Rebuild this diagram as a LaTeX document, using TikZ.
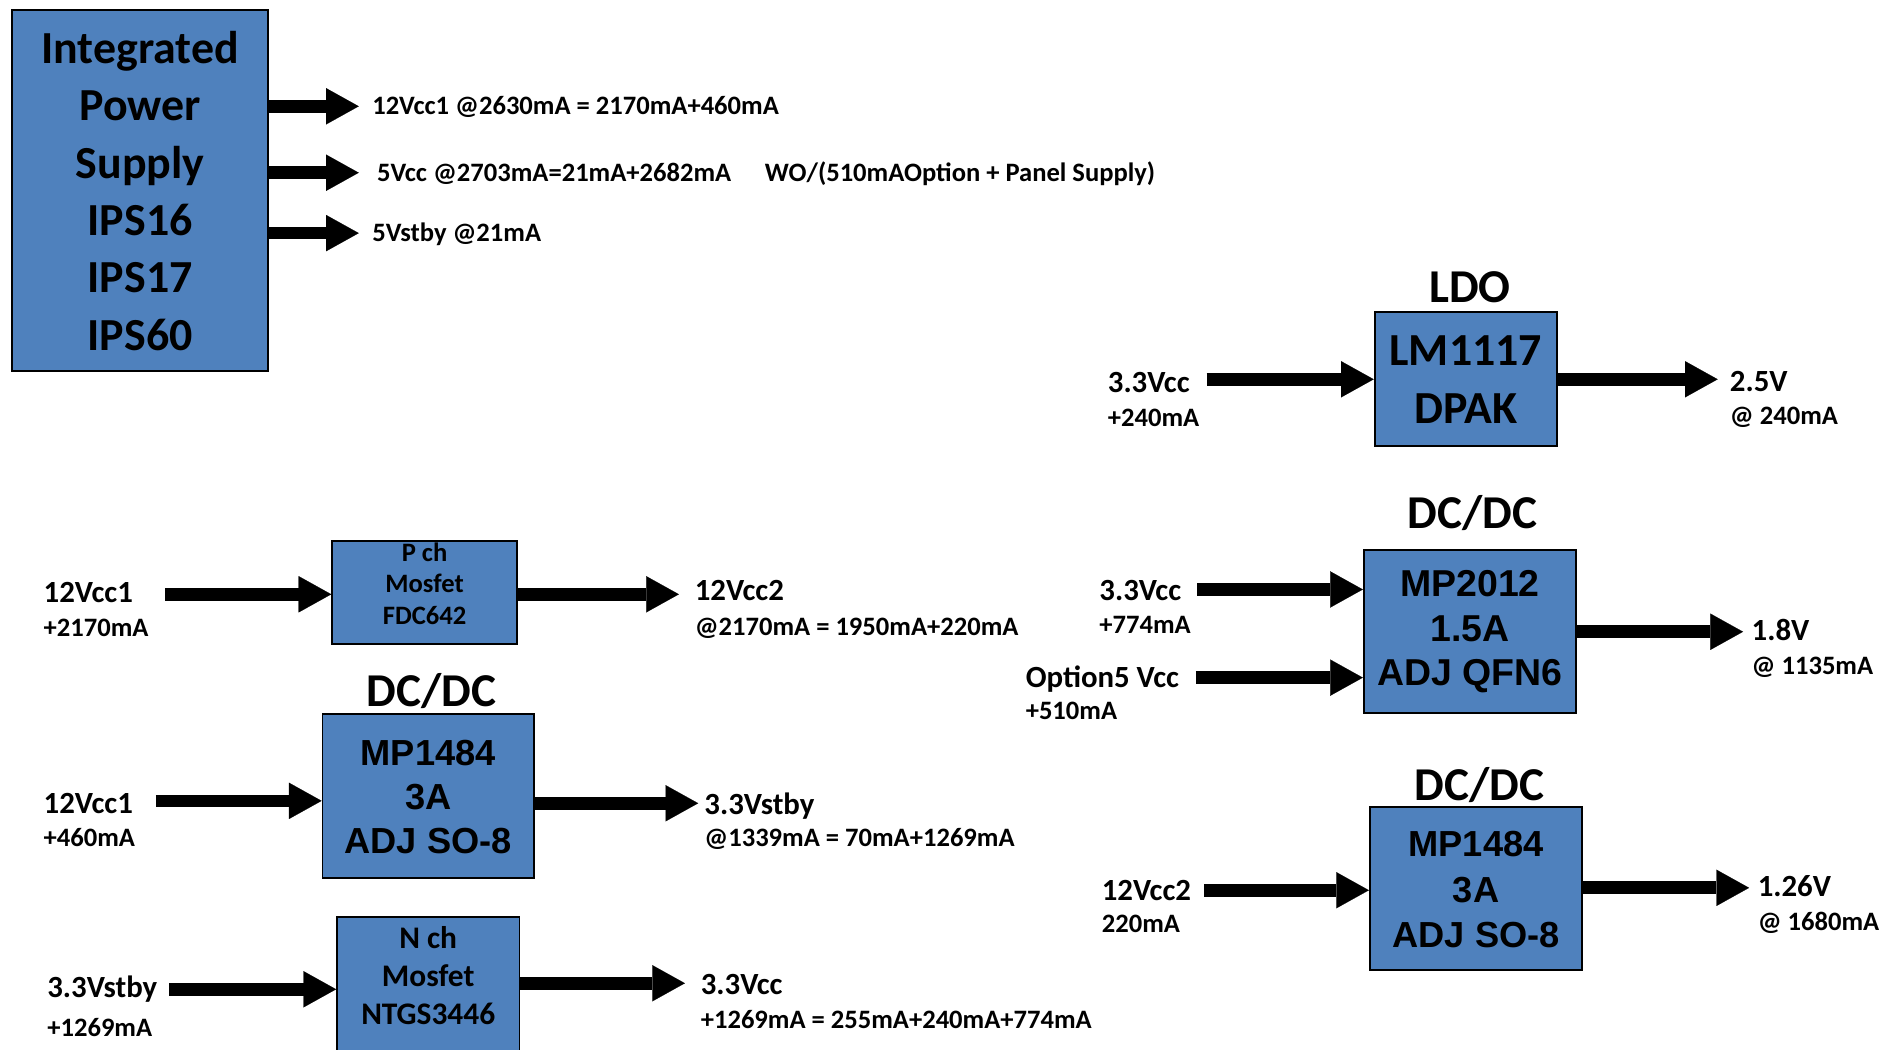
\documentclass[tikz,border=0pt]{standalone}
\usepackage{fontspec}
\setmainfont{Carlito}
\newfontfamily\arialfont{Liberation Sans}
\usetikzlibrary{arrows.meta}
\definecolor{boxblue}{HTML}{4F81BD}
\tikzset{
  blk/.style={draw=black, line width=1.5pt, fill=boxblue, inner sep=0pt},
  lbl/.style={anchor=west, inner sep=0pt, text height=16.3pt, text depth=0pt, font=\bfseries\fontsize{25.5}{30}\selectfont},
  sub/.style={anchor=west, inner sep=0pt, text height=14.1pt, text depth=0pt, font=\bfseries\fontsize{22}{26}\selectfont},
  ttl/.style={inner sep=0pt, text height=25pt, text depth=0pt, font=\bfseries\fontsize{39}{45}\selectfont},
  btxt/.style={align=center, inner sep=0pt},
  arr/.style={line width=10.5pt, -{Triangle[length=27pt,width=30pt,line width=0.1pt]}},
}
\begin{document}
\begin{tikzpicture}[x=1pt,y=-1pt]
\fill[white] (0,0) rectangle (1568,869);
\useasboundingbox (0,0) rectangle (1568,869);

% ---------- Integrated Power Supply ----------
\node[blk, minimum width=212pt, minimum height=299pt] (ips) at (116,157.5) {};
\node[btxt, font=\bfseries\fontsize{38}{47.5}\selectfont] (ipstxt) at (116,158) {Integrated\\Power\\Supply\\IPS16\\IPS17\\IPS60};
\coordinate (ipsE1) at (297,88);
\coordinate (ipsE2) at (297,143);
\coordinate (ipsE3) at (297,193);
\draw[arr] (ips.east |- ipsE1) -- (ipsE1);
\draw[arr] (ips.east |- ipsE2) -- (ipsE2);
\draw[arr] (ips.east |- ipsE3) -- (ipsE3);
\node[sub] (ipsl1) at (308,88) {12Vcc1 @2630mA = 2170mA+460mA};
\node[sub] (ipsl2) at (312,143) {5Vcc @2703mA=21mA+2682mA};
\node[sub] (ipsl2b) at (633,143) {WO/(510mAOption + Panel Supply)};
\node[sub] (ipsl3) at (308,193) {5Vstby @21mA};

% ---------- LDO ----------
\node[ttl] (ldot) at (1217,238) {LDO};
\node[blk, minimum width=151pt, minimum height=111pt] (ldo) at (1213.5,313.5) {};
\node[btxt, font=\bfseries\fontsize{38}{48}\selectfont] (ldotxt) at (1213.5,314) {LM1117\\DPAK};
\coordinate (ldoS) at (999,314);
\coordinate (ldoE) at (1422,314);
\draw[arr] (ldoS) -- (ldoS -| ldo.west);
\draw[arr] (ldo.east |- ldoE) -- (ldoE);
\node[lbl] (ldoin1) at (917,317) {3.3Vcc};
\node[sub] (ldoin2) at (917,346) {+240mA};
\node[lbl] (ldoout1) at (1432,316) {2.5V};
\node[sub] (ldoout2) at (1432,344) {@ 240mA};

% ---------- DC/DC MP2012 ----------
\node[ttl] (mpat) at (1219,425) {DC/DC};
\node[blk, minimum width=176pt, minimum height=135pt] (mpa) at (1217,522.5) {};
\node[btxt, font=\arialfont\bfseries\fontsize{31}{37}\selectfont] (mpatxt) at (1217,523) {MP2012\\1.5A\\ADJ QFN6};
\coordinate (mpaS1) at (991,488);
\coordinate (mpaS2) at (990,561);
\coordinate (mpaE) at (1443,523);
\draw[arr] (mpaS1) -- (mpaS1 -| mpa.west);
\draw[arr] (mpaS2) -- (mpaS2 -| mpa.west);
\draw[arr] (mpa.east |- mpaE) -- (mpaE);
\node[lbl] (mpain1) at (910,489) {3.3Vcc};
\node[sub] (mpain2) at (910,517) {+774mA};
\node[lbl] (mpain3) at (849,561) {Option5 Vcc};
\node[sub] (mpain4) at (849,589) {+510mA};
\node[lbl] (mpaout1) at (1450,522) {1.8V};
\node[sub] (mpaout2) at (1450,551) {@ 1135mA};

% ---------- DC/DC MP1484 (right) ----------
\node[ttl] (mpbt) at (1225,650) {DC/DC};
\node[blk, minimum width=176pt, minimum height=135pt] (mpb) at (1222,735.5) {};
\node[btxt, font=\arialfont\bfseries\fontsize{30}{37.5}\selectfont] (mpbtxt) at (1222,736.5) {MP1484\\3A\\ADJ SO-8};
\coordinate (mpbS) at (997,737);
\coordinate (mpbE) at (1448,735);
\draw[arr] (mpbS) -- (mpbS -| mpb.west);
\draw[arr] (mpb.east |- mpbE) -- (mpbE);
\node[lbl] (mpbin1) at (912,737) {12Vcc2};
\node[sub] (mpbin2) at (912,765) {220mA};
\node[lbl] (mpbout1) at (1455,734) {1.26V};
\node[sub] (mpbout2) at (1455,763) {@ 1680mA};

% ---------- P ch Mosfet ----------
\node[blk, minimum width=153pt, minimum height=85pt] (pch) at (351.5,490.5) {};
\node[btxt, font=\bfseries\fontsize{22}{26}\selectfont] (pchtxt) at (351.5,483) {P ch\\Mosfet\\FDC642};
\coordinate (pchS) at (137,492);
\coordinate (pchE) at (562,492);
\draw[arr] (pchS) -- (pchS -| pch.west);
\draw[arr] (pch.east |- pchE) -- (pchE);
\node[lbl] (pchin1) at (36,491) {12Vcc1};
\node[sub] (pchin2) at (36,520) {+2170mA};
\node[lbl] (pchout1) at (575,489) {12Vcc2};
\node[sub] (pchout2) at (575,519) {@2170mA = 1950mA+220mA};

% ---------- DC/DC MP1484 (left) ----------
\node[ttl] (mpct) at (357,572) {DC/DC};
\node[blk, minimum width=175pt, minimum height=136pt] (mpc) at (354.5,659) {};
\node[btxt, font=\arialfont\bfseries\fontsize{30}{36.5}\selectfont] (mpctxt) at (354.5,659.5) {MP1484\\3A\\ADJ SO-8};
\coordinate (mpcS) at (129,663);
\coordinate (mpcE) at (578,665);
\draw[arr] (mpcS) -- (mpcS -| mpc.west);
\draw[arr] (mpc.east |- mpcE) -- (mpcE);
\node[lbl] (mpcin1) at (36,665) {12Vcc1};
\node[sub] (mpcin2) at (36,694) {+460mA};
\node[lbl] (mpcout1) at (583,666) {3.3Vstby};
\node[sub] (mpcout2) at (583,694) {@1339mA = 70mA+1269mA};

% ---------- N ch Mosfet ----------
\node[blk, minimum width=151pt, minimum height=121pt] (nch) at (354.5,819.5) {};
\node[btxt, font=\bfseries\fontsize{26}{31.5}\selectfont] (nchtxt) at (354.5,807.5) {N ch\\Mosfet\\NTGS3446};
\coordinate (nchS) at (140,819);
\coordinate (nchE) at (567,814);
\draw[arr] (nchS) -- (nchS -| nch.west);
\draw[arr] (nch.east |- nchE) -- (nchE);
\node[lbl] (nchin1) at (39,818) {3.3Vstby};
\node[sub] (nchin2) at (39,851) {+1269mA};
\node[lbl] (nchout1) at (580,815) {3.3Vcc};
\node[sub] (nchout2) at (580,844) {+1269mA = 255mA+240mA+774mA};
\end{tikzpicture}
\end{document}
